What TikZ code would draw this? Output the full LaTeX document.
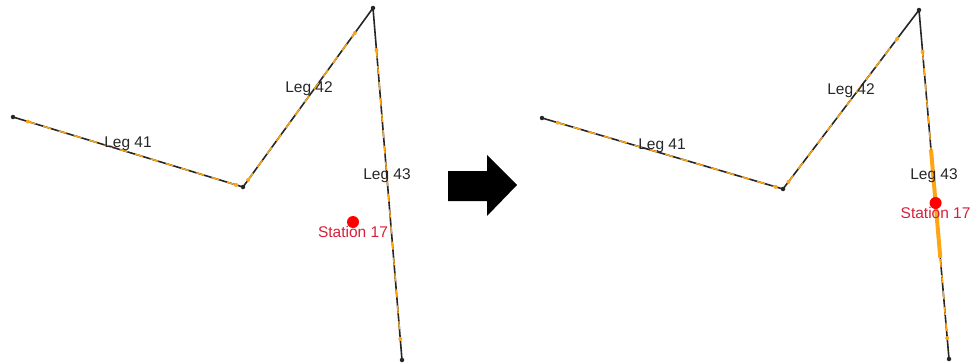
\documentclass[tikz,border=0pt]{standalone}
\usepackage{fontspec}
\setmainfont{Liberation Sans}
\usepackage{xcolor}
\usetikzlibrary{positioning,calc}

\definecolor{legorange}{RGB}{255,165,20}
\definecolor{stnred}{RGB}{214,32,58}

\begin{document}
\begin{tikzpicture}[x=1pt, y=-1pt,
  leg/.style={draw=black!85, line width=1.6pt},
  legdash/.style={draw=legorange, line width=1.4pt, dash pattern=on 8pt off 8pt},
  hilite/.style={draw=legorange, line width=4pt},
  vtx/.style={circle, fill=black!85, inner sep=0pt, minimum size=4.5pt},
  tip/.style={circle, fill=legorange, inner sep=0pt, minimum size=4pt},
  lbl/.style={font=\fontsize{15.5}{17}\selectfont, text=black!85, inner sep=1pt},
  stn/.style={circle, fill=red, inner sep=0pt, minimum size=12pt},
  stnlbl/.style={font=\fontsize{15.5}{17}\selectfont, text=stnred, inner sep=1pt}
]
  \useasboundingbox (0,0) rectangle (972,364);

  % Before: survey legs
  \coordinate (L1) at (13,117);
  \coordinate (L2) at (243,187);
  \coordinate (L3) at (373,8);
  \coordinate (L4) at (402,360);

  \draw[leg] (L1) -- (L2) -- (L3) -- (L4);
  \coordinate (a41) at ($(L1)!0.065!(L2)$);
  \coordinate (b41) at ($(L1)!0.97!(L2)$);
  \coordinate (a42) at ($(L2)!0.04!(L3)$);
  \coordinate (b42) at ($(L2)!0.86!(L3)$);
  \coordinate (a43) at ($(L3)!0.12!(L4)$);
  \coordinate (b43) at ($(L3)!0.94!(L4)$);
  \draw[legdash] (a41) -- (b41);
  \draw[legdash] (a42) -- (b42);
  \draw[legdash] (a43) -- (b43);
  \foreach \p in {a41,b41,a42,b42,a43,b43} \node[tip] at (\p) {};
  \foreach \p in {L1,L2,L3,L4} \node[vtx] at (\p) {};

  \node[lbl] (legL41) at (128,144) {Leg 41};
  \node[lbl] (legL42) at (309,89) {Leg 42};
  \node[lbl] (legL43) at (387,176) {Leg 43};
  \node[stn] (stL) at (353,222) {};
  \node[stnlbl, below=-3pt of stL] (stLlbl) {Station 17};

  % Block arrow
  \fill[black] (448,171) -- (487,171) -- (487,155) -- (517,185)
    -- (487,216) -- (487,201) -- (448,201) -- cycle;

  % After: station snapped onto leg 43
  \coordinate (R1) at (542,118);
  \coordinate (R2) at (783,189);
  \coordinate (R3) at (919,10);
  \coordinate (R4) at (949,359);

  \draw[leg] (R1) -- (R2) -- (R3) -- (R4);
  \coordinate (c41) at ($(R1)!0.065!(R2)$);
  \coordinate (d41) at ($(R1)!0.97!(R2)$);
  \coordinate (c42) at ($(R2)!0.04!(R3)$);
  \coordinate (d42) at ($(R2)!0.84!(R3)$);
  \coordinate (c43) at ($(R3)!0.12!(R4)$);
  \coordinate (d43) at ($(R3)!0.94!(R4)$);
  \draw[legdash] (c41) -- (d41);
  \draw[legdash] (c42) -- (d42);
  \draw[legdash] (c43) -- (d43);
  \foreach \p in {c41,d41,c42,d42,c43,d43} \node[tip] at (\p) {};
  \foreach \p in {R1,R2,R3,R4} \node[vtx] at (\p) {};

  \coordinate (h1) at ($(R3)!0.40!(R4)$);
  \coordinate (h2) at ($(R3)!0.71!(R4)$);
  \draw[hilite] (h1) -- (h2);

  \node[lbl] (legR41) at (662,146) {Leg 41};
  \node[lbl] (legR42) at (851,91) {Leg 42};
  \node[lbl] (legR43) at (934,176) {Leg 43};
  \node[stn] (stR) at ($(R3)!0.553!(R4)$) {};
  \node[stnlbl, below=-3pt of stR] (stRlbl) {Station 17};
\end{tikzpicture}
\end{document}
